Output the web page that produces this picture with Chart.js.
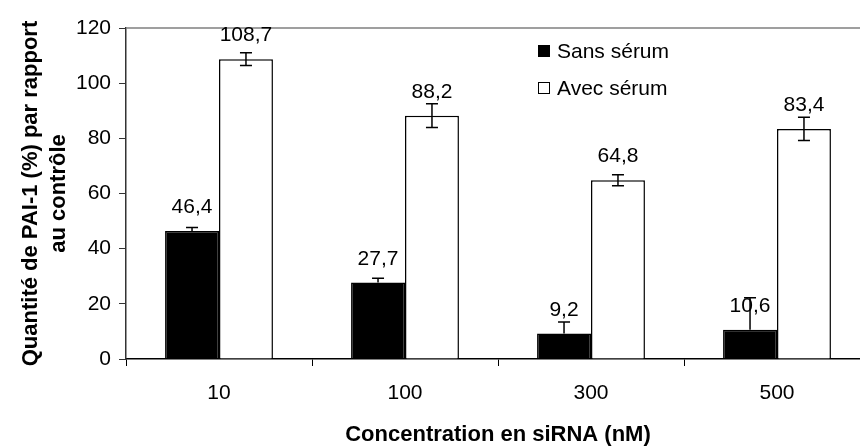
<!DOCTYPE html>
<html lang="fr">
<head>
<meta charset="utf-8">
<title>PAI-1 / siRNA</title>
<script src="https://cdn.jsdelivr.net/npm/chart.js@4.4.0/dist/chart.umd.min.js"></script>
<style>
  html, body { margin: 0; padding: 0; background: #fff; overflow: hidden; }
  #wrap { width: 880px; height: 447px; }
</style>
</head>
<body>
<div id="wrap"><canvas id="chart" width="880" height="447"></canvas></div>
<script>
// donnees
var categories = ['10', '100', '300', '500'];
var sansSerum = [46.4, 27.7, 9.2, 10.6];
var avecSerum = [108.7, 88.2, 64.8, 83.4];
var sansSerumErr = [1.3, 1.6, 4.2, 11.6];
var avecSerumErr = [2.3, 4.3, 2.0, 4.2];
var yTicks = [0, 20, 40, 60, 80, 100, 120];

var FONT = "'Liberation Sans', Arial, sans-serif";

// barres d'erreur, valeurs, legende et cadre du haut
var extras = {
    id: 'extras',
    afterDatasetsDraw: function (chart) {
        var ctx = chart.ctx;
        var ys = chart.scales.y;
        var area = chart.chartArea;
        var errs = [sansSerumErr, avecSerumErr];
        var bothSides = [false, true]; // barres noires : erreur vers le haut seulement

        ctx.save();
        // cadre gris
        ctx.strokeStyle = '#808080';
        ctx.lineWidth = 1.5;
        ctx.beginPath();
        ctx.moveTo(area.left, area.top);
        ctx.lineTo(area.right, area.top);
        ctx.lineTo(area.right, area.bottom);
        ctx.stroke();

        ctx.font = '21px ' + FONT;
        ctx.fillStyle = '#000';
        ctx.textAlign = 'center';
        ctx.textBaseline = 'alphabetic';
        chart.data.datasets.forEach(function (ds, i) {
            var meta = chart.getDatasetMeta(i);
            meta.data.forEach(function (bar, j) {
                var v = ds.data[j];
                ctx.fillText(v.toFixed(1).replace('.', ','), bar.x, bar.y - 18);

                var e = errs[i][j];
                var top = ys.getPixelForValue(v + e);
                var bot = bothSides[i] ? ys.getPixelForValue(v - e) : bar.y;
                ctx.strokeStyle = '#000';
                ctx.lineWidth = 1.5;
                ctx.beginPath();
                ctx.moveTo(bar.x, top);
                ctx.lineTo(bar.x, bot);
                ctx.moveTo(bar.x - 6, top);
                ctx.lineTo(bar.x + 6, top);
                if (bothSides[i]) {
                    ctx.moveTo(bar.x - 6, bot);
                    ctx.lineTo(bar.x + 6, bot);
                }
                ctx.stroke();
            });
        });

        // legende
        var lx = area.left + 412;
        var ly = area.top + 23;
        ctx.textAlign = 'left';
        ctx.textBaseline = 'middle';
        chart.data.datasets.forEach(function (ds, i) {
            var cy = ly + i * 37;
            ctx.fillStyle = ds.backgroundColor;
            ctx.fillRect(lx, cy - 6, 12, 12);
            ctx.strokeStyle = '#000';
            ctx.lineWidth = 1;
            ctx.strokeRect(lx + 0.5, cy - 5.5, 11, 11);
            ctx.fillStyle = '#000';
            ctx.fillText(ds.label, lx + 19, cy + 1);
        });
        ctx.restore();
    }
};

var ctx = document.getElementById('chart').getContext('2d');
var myChart = new Chart(ctx, {
    type: 'bar',
    data: {
        labels: categories,
        datasets: [{
            label: 'Sans sérum',
            data: sansSerum,
            backgroundColor: '#000000',
            borderColor: '#000000',
            borderWidth: 1.5
        }, {
            label: 'Avec sérum',
            data: avecSerum,
            backgroundColor: '#ffffff',
            borderColor: '#000000',
            borderWidth: 1.5
        }]
    },
    options: {
        responsive: false,
        animation: false,
        devicePixelRatio: 1,
        categoryPercentage: 0.58,
        barPercentage: 1.0,
        layout: {
            padding: { top: 28, right: 10, bottom: 0, left: 0 }
        },
        plugins: {
            legend: { display: false },
            tooltip: { enabled: false }
        },
        scales: {
            x: {
                grid: {
                    drawOnChartArea: false,
                    tickLength: 7,
                    color: '#000',
                    offset: true
                },
                border: { color: '#000', width: 1.5 },
                ticks: {
                    color: '#000',
                    padding: 15,
                    font: { family: FONT, size: 21 }
                },
                title: {
                    display: true,
                    text: 'Concentration en siRNA (nM)',
                    color: '#000',
                    font: { family: FONT, size: 22, weight: 'bold', lineHeight: 1.0 },
                    padding: { top: 0, bottom: 1 }
                },
                afterFit: function (scale) { scale.height = 88; }
            },
            y: {
                min: 0,
                max: 120,
                afterBuildTicks: function (scale) {
                    scale.ticks = yTicks.map(function (v) { return { value: v }; });
                },
                grid: {
                    drawOnChartArea: false,
                    tickLength: 7,
                    color: '#333'
                },
                border: { color: '#333', width: 1.5 },
                ticks: {
                    color: '#000',
                    padding: 8,
                    font: { family: FONT, size: 21 }
                },
                title: {
                    display: true,
                    text: ['Quantité de PAI-1 (%) par rapport', 'au contrôle'],
                    color: '#000',
                    font: { family: FONT, size: 22, weight: 'bold', lineHeight: 1.27 },
                    padding: { top: 17, bottom: 0 }
                },
                afterFit: function (scale) { scale.width = 126; }
            }
        }
    },
    plugins: [extras]
});
</script>
</body>
</html>
